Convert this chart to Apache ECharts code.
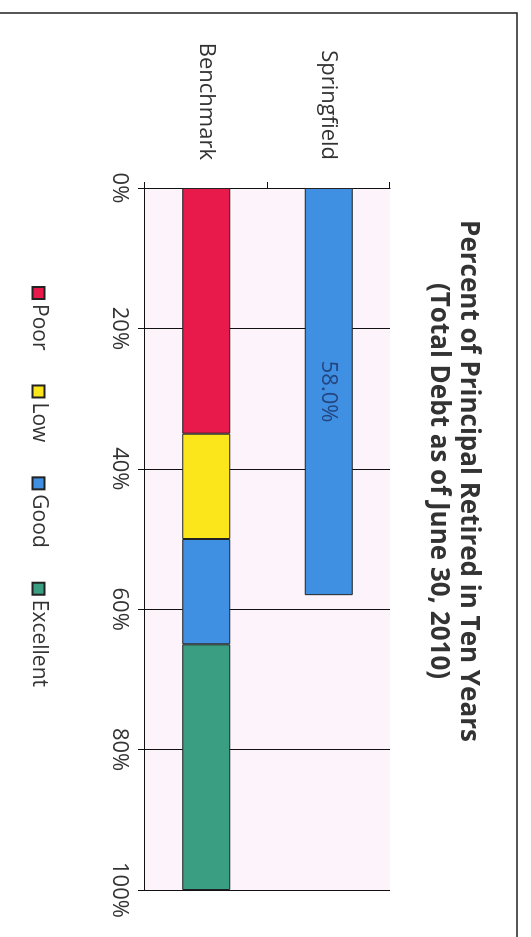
<!DOCTYPE html>
<html>
<head>
<meta charset="utf-8">
<script src="https://cdn.jsdelivr.net/npm/echarts@6/dist/echarts.min.js"></script>
<style>
  html, body { margin: 0; padding: 0; background: #fff; overflow: hidden; }
  /* the chart is drawn landscape, then turned a quarter clockwise like the scan */
  #chart {
    position: absolute;
    left: 0;
    top: 0;
    width: 937px;
    height: 531px;
    transform-origin: 0 0;
    transform: translateX(531px) rotate(90deg);
  }
</style>
</head>
<body>
<div id="chart"></div>
<script>
// data
const categories = ['Benchmark', 'Springfield'];
const poor = [35, '-'];
const low = [15, '-'];
const good = [15, '-'];
const excellent = [35, '-'];
const springfield = ['-', 58];
const legendNames = ['Poor', 'Low', 'Good', 'Excellent'];

const chart = echarts.init(document.getElementById('chart'));
const font = '"Open Sans", Lato, sans-serif';

function barSeries(name, data, color) {
  return {
    name: name,
    type: 'bar',
    stack: 'total',
    barWidth: 48,
    data: data,
    itemStyle: { color: color, borderColor: '#222', borderWidth: 1 }
  };
}

const sf = barSeries('Springfield', springfield, '#3f8fe2');
sf.label = {
  show: true,
  position: 'inside',
  formatter: p => p.value.toFixed(1) + '%',
  color: '#24457f',
  fontSize: 22,
  fontFamily: font
};

chart.setOption({
  backgroundColor: '#fff',
  title: {
    text: 'Percent of Principal Retired in Ten Years\n(Total Debt as of June 30, 2010)',
    left: 476,
    textAlign: 'center',
    top: 43,
    textStyle: {
      fontFamily: font,
      fontWeight: 'bold',
      fontSize: 26,
      lineHeight: 30,
      color: '#333'
    }
  },
  legend: {
    data: legendNames,
    left: 281,
    top: 477,
    icon: 'rect',
    itemWidth: 12,
    itemHeight: 12,
    itemGap: 34,
    itemTextGap: 5,
    textStyle: { fontFamily: font, fontSize: 21, color: '#333' }
  },
  grid: {
    left: 188,
    right: 47,
    top: 141,
    bottom: 145,
    show: true,
    backgroundColor: '#fcf4fa',
    borderWidth: 0
  },
  xAxis: {
    type: 'value',
    min: 0,
    max: 100,
    interval: 20,
    axisLine: { show: true, lineStyle: { color: '#111', width: 1 } },
    axisTick: { show: true, length: 7, lineStyle: { color: '#111' } },
    splitLine: { show: true, lineStyle: { color: '#111', width: 1 } },
    axisLabel: {
      formatter: '{value}%',
      margin: 15,
      fontFamily: font,
      fontSize: 22,
      color: '#333'
    }
  },
  yAxis: {
    type: 'category',
    data: categories,
    axisLine: { show: true, lineStyle: { color: '#111', width: 1 } },
    axisTick: { show: true, length: 6, lineStyle: { color: '#111' } },
    axisLabel: {
      margin: 28,
      fontFamily: font,
      fontSize: 22,
      color: '#333'
    }
  },
  graphic: [{
    type: 'rect',
    shape: { x: 13, y: 14, width: 1000, height: 1000 },
    style: { fill: 'none', stroke: '#222', lineWidth: 1.5 },
    silent: true
  }],
  series: [
    barSeries('Poor', poor, '#e8194b'),
    barSeries('Low', low, '#fbe61c'),
    barSeries('Good', good, '#3f8fe2'),
    barSeries('Excellent', excellent, '#3a9e82'),
    sf
  ]
});
</script>
</body>
</html>
